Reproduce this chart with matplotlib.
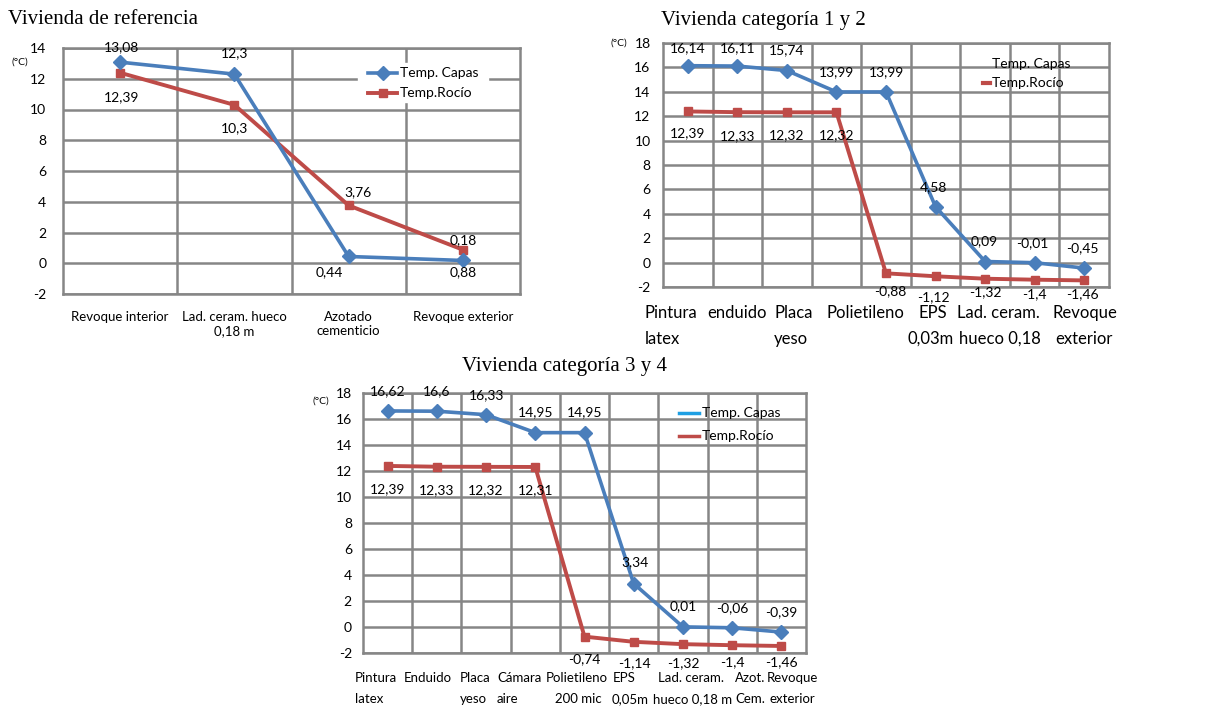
import matplotlib.pyplot as plt

plt.rcParams['font.family'] = ['Lato', 'DejaVu Sans']
plt.rcParams['axes.unicode_minus'] = False

W, H = 1213, 709
BLUE = '#4A7EBB'
RED = '#BE4B48'
GRID = '#868686'

# --- Vivienda de referencia ---
ref_capas = [13.08, 12.3, 0.44, 0.18]
ref_rocio = [12.39, 10.3, 3.76, 0.88]
ref_cats = ['Revoque interior', 'Lad. ceram. hueco\n0,18 m', 'Azotado\ncementicio', 'Revoque exterior']
# the last two labels are swapped in the original
ref_lab_capas = ['13,08', '12,3', '0,44', '0,88']
ref_lab_rocio = ['12,39', '10,3', '3,76', '0,18']

# --- Vivienda categoria 1 y 2 ---
c12_capas = [16.14, 16.11, 15.74, 13.99, 13.99, 4.58, 0.09, -0.01, -0.45]
c12_rocio = [12.39, 12.33, 12.32, 12.32, -0.88, -1.12, -1.32, -1.4, -1.46]
c12_cats = ['Pintura\nlatex', 'enduido', 'Placa\nyeso', 'Polietileno', 'EPS\n0,03m',
            'Lad. ceram.\nhueco 0,18', 'Revoque\nexterior']

# --- Vivienda categoria 3 y 4 ---
c34_capas = [16.62, 16.6, 16.33, 14.95, 14.95, 3.34, 0.01, -0.06, -0.39]
c34_rocio = [12.39, 12.33, 12.32, 12.31, -0.74, -1.14, -1.32, -1.4, -1.46]
c34_cats = ['Pintura\nlatex', 'Enduido', 'Placa\nyeso', 'Cámara\naire', 'Polietileno\n200 mic',
            'EPS\n0,05m', 'Lad. ceram.\nhueco 0,18 m', 'Azot.\nCem.', 'Revoque\nexterior']


def fmt(v):
    return f"{v:g}".replace('.', ',')


def px_axes(fig, left, top, right, bottom):
    return fig.add_axes([left / W, 1 - bottom / H, (right - left) / W, (bottom - top) / H])


def ftext(fig, x, y, s, **kw):
    fig.text(x / W, 1 - y / H, s, **kw)


def fline(fig, xs, y, **kw):
    fig.lines.append(plt.Line2D([x / W for x in xs], [1 - y / H] * len(xs),
                                transform=fig.transFigure, **kw))


def draw(ax, capas, rocio, ymin, ymax, pad):
    n = len(capas)
    x = list(range(n))
    ax.plot(x, capas, color=BLUE, lw=2.6, marker='D', ms=7, zorder=4)
    ax.plot(x, rocio, color=RED, lw=2.8, marker='s', ms=6, zorder=3)
    ax.set_xlim(-0.5, n - 0.5)
    ax.set_ylim(ymin, ymax)
    ax.set_yticks(range(ymin, ymax + 1, 2))
    ax.set_xticks([i + 0.5 for i in range(n - 1)], minor=True)
    ax.set_xticks([])
    ax.grid(True, which='major', axis='y', color=GRID, lw=1.8)
    ax.grid(True, which='minor', axis='x', color=GRID, lw=1.8)
    ax.tick_params(which='both', length=0)
    ax.tick_params(axis='y', labelsize=10, pad=pad)
    for s in ax.spines.values():
        s.set_color(GRID)
        s.set_linewidth(1.8)
    ax.set_axisbelow(True)


def labels(ax, vals, texts, offs, size=10):
    for i, (v, t, (dx, dy)) in enumerate(zip(vals, texts, offs)):
        ax.annotate(t, (i, v), xytext=(dx, dy), textcoords='offset pixels',
                    ha='center', va='center', fontsize=size, zorder=5)


fig = plt.figure(figsize=(W / 100, H / 100), dpi=100)

# ---------------- chart 1 ----------------
ax1 = px_axes(fig, 63, 48, 520, 294)
draw(ax1, ref_capas, ref_rocio, -2, 14, 12)
ax1.set_xticks(range(4))
ax1.set_xticklabels(ref_cats, fontsize=9.5)
ax1.tick_params(axis='x', pad=12)
labels(ax1, ref_capas, ref_lab_capas, [(1, 15), (0, 21), (-19, -16), (0, -12)])
labels(ax1, ref_rocio, ref_lab_rocio, [(1, -24), (0, -23), (9, 13), (0, 10)])
fig.add_artist(plt.Rectangle((358 / W, 1 - 102 / H), 130 / W, 39 / H,
                             transform=fig.transFigure, color='white', zorder=2))
fline(fig, [368, 382.5, 397], 73, color=BLUE, lw=2.6, marker='D', ms=7, markevery=[1], zorder=3)
fline(fig, [368, 382.5, 397], 93, color=RED, lw=2.8, marker='s', ms=6, markevery=[1], zorder=3)
ftext(fig, 400, 73, 'Temp. Capas', fontsize=10, va='center', zorder=3)
ftext(fig, 400, 93, 'Temp.Rocío', fontsize=10, va='center', zorder=3)
ftext(fig, 8, 20, 'Vivienda de referencia', fontsize=15, family='Liberation Serif', va='center')
ftext(fig, 20, 62, '(°C)', fontsize=7.5, ha='center', va='center')

# ---------------- chart 2 ----------------
ax2 = px_axes(fig, 663, 43, 1109, 287)
draw(ax2, c12_capas, c12_rocio, -2, 18, 9)
labels(ax2, c12_capas, [fmt(v) for v in c12_capas],
       [(0, 18), (0, 18), (0, 20), (0, 20), (0, 20), (-2, 20), (-1, 20), (-2, 20), (-2, 20)])
labels(ax2, c12_rocio, [fmt(v) for v in c12_rocio],
       [(0, -22), (0, -24), (0, -23), (0, -23), (4, -18), (-2, -21), (0, -13), (0, -14), (-2, -14)])
c12_pos = [(645, 645), (707, 707), (774, 774), (826, 826), (918, 908), (957, 959), (1053, 1055)]
for lab, (x1, x2) in zip(c12_cats, c12_pos):
    parts = lab.split('\n')
    ftext(fig, x1, 313, parts[0], fontsize=12, va='center')
    if len(parts) > 1:
        ftext(fig, x2, 339, parts[1], fontsize=12, va='center')
fline(fig, [983, 990], 83, color=RED, lw=3)
ftext(fig, 992, 64, 'Temp. Capas', fontsize=10, va='center')
ftext(fig, 992, 83, 'Temp.Rocío', fontsize=10, va='center')
ftext(fig, 661, 21, 'Vivienda categoría 1 y 2', fontsize=15, family='Liberation Serif', va='center')
ftext(fig, 619, 43, '(°C)', fontsize=7.5, ha='center', va='center')

# ---------------- chart 3 ----------------
ax3 = px_axes(fig, 363, 393, 806, 653)
draw(ax3, c34_capas, c34_rocio, -2, 18, 8)
labels(ax3, c34_capas, [fmt(v) for v in c34_capas],
       [(0, 20), (0, 20), (0, 20), (0, 20), (0, 20), (1, 21), (0, 21), (0, 20), (0, 20)])
labels(ax3, c34_rocio, [fmt(v) for v in c34_rocio],
       [(0, -23), (0, -23), (0, -23), (0, -23), (0, -23), (1, -21), (0, -19), (0, -17), (0, -16)])
c34_pos = [(355, 355), (404, 404), (460, 460), (497, 497), (546, 555), (613, 612),
           (658, 653), (735, 735), (767, 769)]
for lab, (x1, x2) in zip(c34_cats, c34_pos):
    parts = lab.split('\n')
    ftext(fig, x1, 678, parts[0], fontsize=9.5, va='center')
    if len(parts) > 1:
        ftext(fig, x2, 699, parts[1], fontsize=9.5, va='center')
fline(fig, [679, 699], 413, color='#1E9FE3', lw=2.5)
fline(fig, [679, 699], 436, color=RED, lw=2.5)
ftext(fig, 702, 413, 'Temp. Capas', fontsize=10, va='center')
ftext(fig, 702, 436, 'Temp.Rocío', fontsize=10, va='center')
ftext(fig, 565, 367, 'Vivienda categoría 3 y 4', fontsize=15, family='Liberation Serif',
      ha='center', va='center')
ftext(fig, 321, 401, '(°C)', fontsize=7.5, ha='center', va='center')

fig.savefig('out.png', dpi=100)
